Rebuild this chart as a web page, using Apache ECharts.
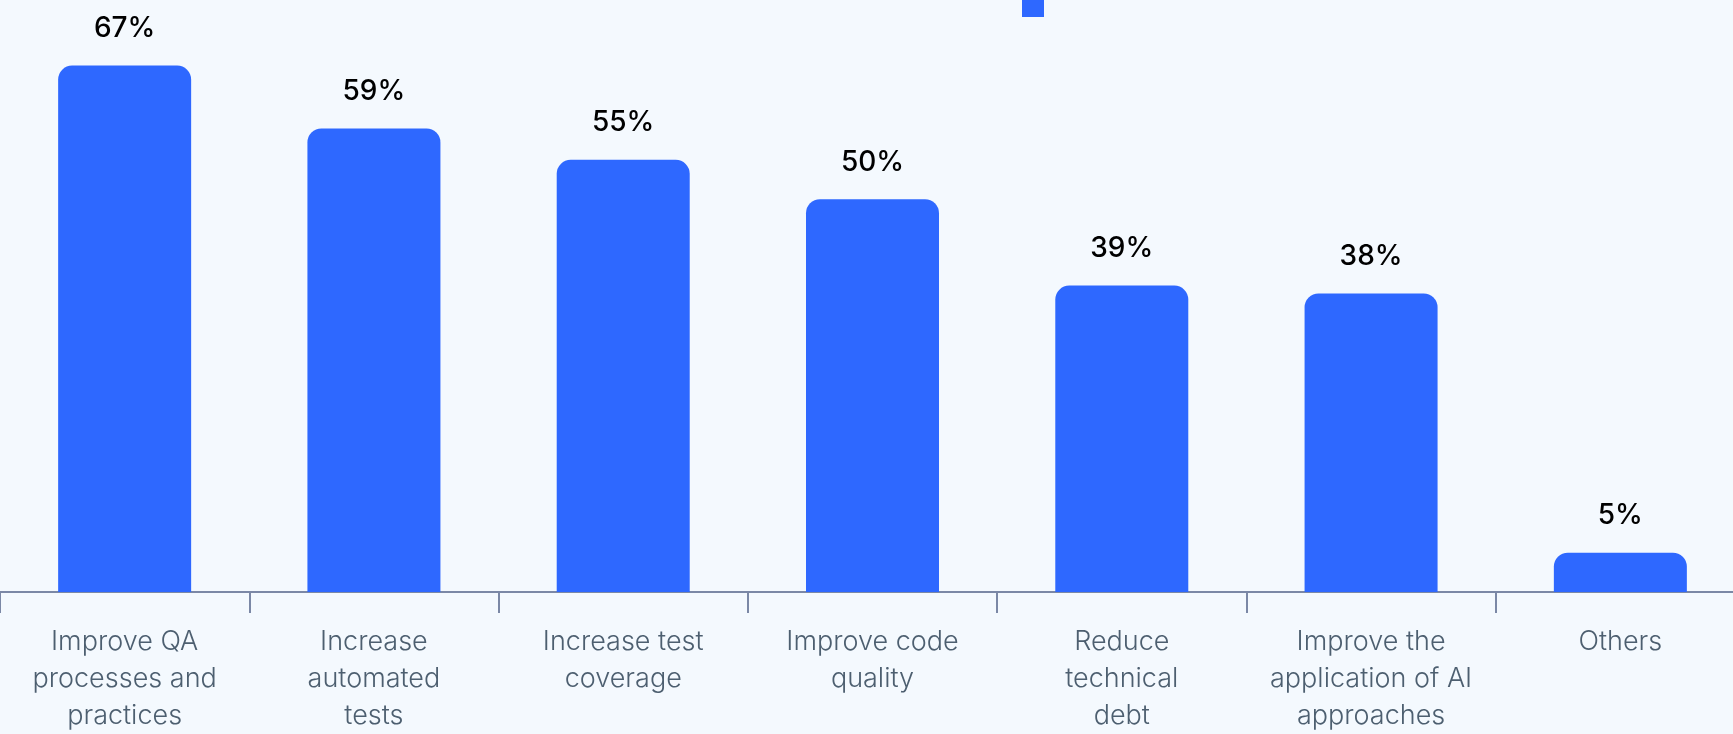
<!DOCTYPE html>
<html>
<head>
<meta charset="utf-8">
<style>
  html, body { margin: 0; padding: 0; background: #f4f9fe; }
  #chart { width: 1733px; height: 734px; }
</style>
<script src="https://cdn.jsdelivr.net/npm/echarts@6/dist/echarts.min.js"></script>
</head>
<body>
<div id="chart"></div>
<script>
const categories = [
  'Improve QA\nprocesses and\npractices',
  'Increase\nautomated\ntests',
  'Increase test\ncoverage',
  'Improve code\nquality',
  'Reduce\ntechnical\ndebt',
  'Improve the\napplication of AI\napproaches',
  'Others'
]
const seriesName = 'Share of respondents'
const values = [67, 59, 55, 50, 39, 38, 5]

const chart = echarts.init(document.getElementById('chart'))

chart.setOption({
  backgroundColor: '#f4f9fe',
  animation: false,
  legend: {
    left: 1022,
    top: -23,
    padding: 0,
    itemWidth: 22,
    itemHeight: 40,
    itemGap: 0,
    icon: 'rect',
    formatter: () => '',
    textStyle: { fontSize: 1 },
    data: [seriesName]
  },
  grid: {
    left: 0,
    top: 42,
    width: 1745,
    bottom: 142,
    outerBoundsMode: 'none',
    containLabel: false
  },
  xAxis: {
    type: 'category',
    data: categories,
    axisLine: {
      lineStyle: { color: '#7b88a6', width: 2 }
    },
    axisTick: {
      show: true,
      length: 21,
      lineStyle: { color: '#7b88a6', width: 2 }
    },
    axisLabel: {
      interval: 0,
      margin: 31,
      color: '#4d5f70',
      fontFamily: 'Inter',
      fontWeight: 300,
      fontSize: 27,
      lineHeight: 37,
      verticalAlign: 'top'
    }
  },
  yAxis: {
    type: 'value',
    min: 0,
    max: 70,
    show: false,
    splitLine: { show: false }
  },
  series: [{
    name: seriesName,
    type: 'bar',
    barWidth: 133,
    data: values,
    itemStyle: {
      color: '#2e68ff',
      borderRadius: [14, 14, 0, 0]
    },
    label: {
      show: true,
      position: 'top',
      distance: 23,
      color: '#000000',
      fontFamily: 'Inter',
      fontWeight: 500,
      fontSize: 28,
      formatter(p) {
        return p.value + '%'
      }
    }
  }]
})
</script>
</body>
</html>
